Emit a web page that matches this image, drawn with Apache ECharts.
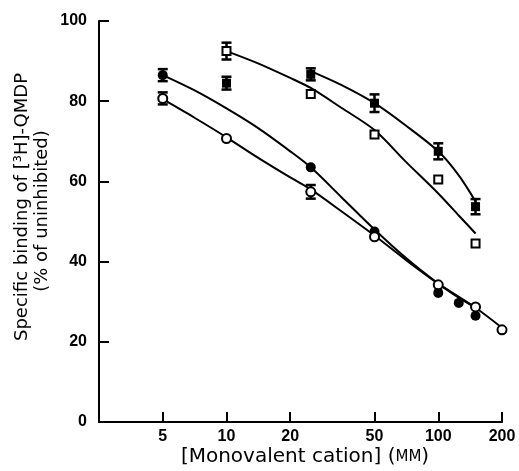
<!DOCTYPE html>
<html>
<head>
<meta charset="utf-8">
<script src="https://cdn.jsdelivr.net/npm/echarts@6/dist/echarts.min.js"></script>
<style>
  html, body { margin: 0; padding: 0; background: #fff; }
  #chart { width: 519px; height: 471px; }
</style>
</head>
<body>
<div id="chart"></div>
<script>
// x tick labels, [monovalent cation] in mM
const xTicks = [5, 10, 20, 50, 100, 200]

// filled circles
const fcX = [5, 25, 50, 100, 125, 150]
const fcY = [86.5, 63.5, 47.5, 32.2, 29.7, 26.5]
const fcErr = [1.5, 0, 0, 0, 0, 0]
const fcCurveX = [5, 7, 10, 14, 20, 25, 35, 50, 70, 100, 125, 150]
const fcCurveY = [86.5, 82.8, 78.2, 73.4, 67.5, 63.5, 56, 48, 41, 34.5, 31, 28.5]

// open circles
const ocX = [5, 10, 25, 50, 100, 150, 200]
const ocY = [80.7, 70.7, 57.4, 46.2, 34.2, 28.7, 23]
const ocErr = [1.5, 0, 1.7, 0, 0, 0, 0]
const ocCurveX = [5, 7, 10, 14, 20, 25, 35, 50, 70, 100, 150, 200]
const ocCurveY = [80.5, 76, 71, 66, 61, 58, 52.5, 46.5, 40.5, 34.5, 28.5, 23.5]

// filled squares
const fsX = [10, 25, 50, 100, 150]
const fsY = [84.5, 86.7, 79.5, 67.5, 53.7]
const fsErr = [1.6, 1.5, 2.2, 2, 1.9]
const fsCurveX = [25, 35, 50, 70, 100, 125, 150]
const fsCurveY = [87.5, 84, 79.5, 74, 67.5, 61.5, 55]

// open squares
const osX = [10, 25, 50, 100, 150]
const osY = [92.5, 81.8, 71.7, 60.5, 44.5]
const osErr = [2.1, 0, 0, 0, 0]
const osCurveX = [10, 14, 20, 25, 35, 50, 70, 100, 125, 150]
const osCurveY = [92.5, 89.5, 85.8, 83.3, 78.3, 72.8, 65, 57, 51.5, 47]

const pairs = (xs, ys) => xs.map((x, i) => [x, ys[i]])
const errData = (xs, ys, es) => xs.map((x, i) => [x, ys[i], es[i]]).filter(d => d[2] > 0)

const chart = echarts.init(document.getElementById('chart'), null, { renderer: 'canvas' })

const labelFont = 'Liberation Sans, Arial, sans-serif'
const titleFont = 'DejaVu Sans, sans-serif'

// fitted curve, drawn as a plain smoothed line
function curve (xs, ys) {
  return {
    type: 'line',
    data: pairs(xs, ys),
    smooth: 0.3,
    showSymbol: false,
    silent: true,
    z: 1,
    lineStyle: { color: '#000', width: 2 }
  }
}

// vertical error bars with caps
function errorBars (xs, ys, es) {
  return {
    type: 'custom',
    z: 2,
    silent: true,
    data: errData(xs, ys, es),
    renderItem (params, api) {
      const x = api.value(0)
      const y = api.value(1)
      const e = api.value(2)
      const top = api.coord([x, y + e])
      const bot = api.coord([x, y - e])
      const hw = 5
      const style = { stroke: '#000', lineWidth: 2.5 }
      return {
        type: 'group',
        children: [
          { type: 'line', shape: { x1: top[0], y1: top[1], x2: bot[0], y2: bot[1] }, style },
          { type: 'line', shape: { x1: top[0] - hw, y1: top[1], x2: top[0] + hw, y2: top[1] }, style },
          { type: 'line', shape: { x1: bot[0] - hw, y1: bot[1], x2: bot[0] + hw, y2: bot[1] }, style }
        ]
      }
    }
  }
}

function markers (xs, ys, symbol, size, filled) {
  return {
    type: 'scatter',
    data: pairs(xs, ys),
    symbol,
    symbolSize: size,
    z: 3,
    itemStyle: filled
      ? { color: '#000', borderColor: '#000', borderWidth: 0, opacity: 1 }
      : { color: '#fff', borderColor: '#000', borderWidth: 2, opacity: 1 }
  }
}

const option = {
  animation: false,
  backgroundColor: '#fff',
  grid: { left: 99, right: 17, top: 21, bottom: 49 },
  xAxis: {
    type: 'log',
    logBase: 10,
    min: 2.5,
    max: 200,
    axisLine: { lineStyle: { color: '#000', width: 2 } },
    axisTick: {
      inside: true,
      length: 10,
      customValues: xTicks,
      lineStyle: { color: '#000', width: 2 }
    },
    minorTick: { show: false },
    axisLabel: {
      customValues: xTicks,
      color: '#000',
      fontSize: 16,
      fontWeight: 'bold',
      fontFamily: labelFont,
      margin: 7
    },
    splitLine: { show: false }
  },
  yAxis: {
    type: 'value',
    min: 0,
    max: 100,
    interval: 20,
    axisLine: { show: true, lineStyle: { color: '#000', width: 2 } },
    axisTick: { show: true, inside: true, length: 10, lineStyle: { color: '#000', width: 2 } },
    axisLabel: { color: '#000', fontSize: 16, fontWeight: 'bold', fontFamily: labelFont, margin: 12 },
    splitLine: { show: false }
  },
  graphic: [
    {
      type: 'text',
      x: 305,
      y: 457,
      style: {
        text: '[Monovalent cation] ({sc|MM})',
        font: '20px ' + titleFont,
        fill: '#000',
        align: 'center',
        verticalAlign: 'middle',
        rich: { sc: { fontSize: 15, fontFamily: titleFont, fill: '#000' } }
      }
    },
    {
      type: 'text',
      x: 22,
      y: 207,
      rotation: Math.PI / 2,
      style: {
        text: 'Specific binding of [³H]-QMDP',
        font: '18px ' + titleFont,
        fill: '#000',
        align: 'center',
        verticalAlign: 'middle'
      }
    },
    {
      type: 'text',
      x: 42,
      y: 211,
      rotation: Math.PI / 2,
      style: {
        text: '(% of uninhibited)',
        font: '18px ' + titleFont,
        fill: '#000',
        align: 'center',
        verticalAlign: 'middle'
      }
    }
  ],
  series: [
    curve(fcCurveX, fcCurveY),
    curve(ocCurveX, ocCurveY),
    curve(fsCurveX, fsCurveY),
    curve(osCurveX, osCurveY),
    errorBars(fcX, fcY, fcErr),
    errorBars(ocX, ocY, ocErr),
    errorBars(fsX, fsY, fsErr),
    errorBars(osX, osY, osErr),
    markers(fcX, fcY, 'circle', 10, true),
    markers(ocX, ocY, 'circle', 9, false),
    markers(fsX, fsY, 'rect', 9, true),
    markers(osX, osY, 'rect', 8, false)
  ]
}

chart.setOption(option)
</script>
</body>
</html>
